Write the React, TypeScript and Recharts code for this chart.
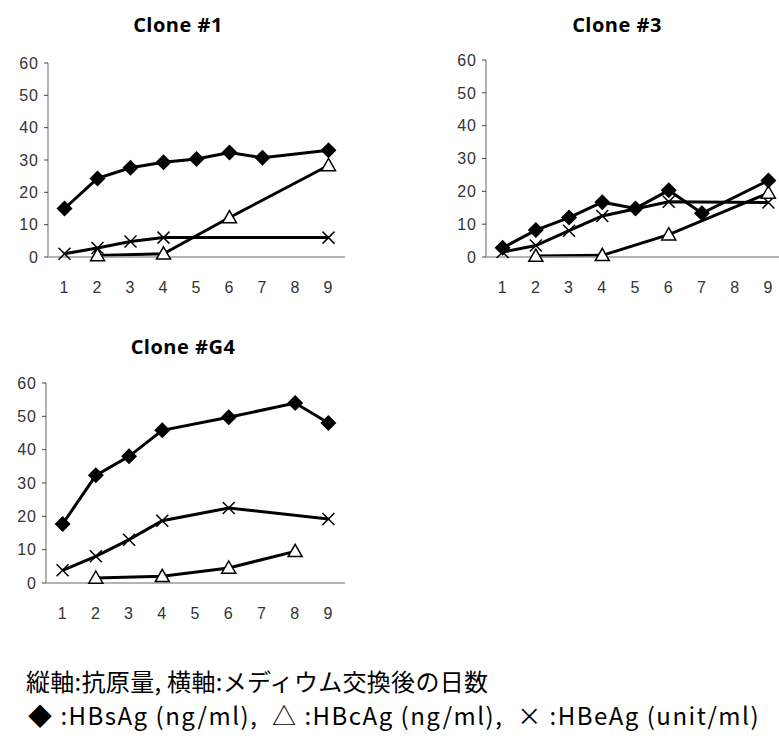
import React from 'react'
import { LineChart, Line, XAxis, YAxis } from 'recharts'

// days after medium exchange
const days = [1, 2, 3, 4, 5, 6, 7, 8, 9]
const yTicks = [0, 10, 20, 30, 40, 50, 60]
const edgeTicks = [0.5, 1.5, 2.5, 3.5, 4.5, 5.5, 6.5, 7.5, 8.5, 9.5]

// Clone #1
const c1HBs = [15, 24.3, 27.6, 29.3, 30.3, 32.3, 30.7, null, 33]
const c1HBc = [null, 0.5, null, 1, null, 12.2, null, null, 28.3]
const c1HBe = [1, 2.8, 4.8, 6, null, null, null, null, 6]

// Clone #3
const c3HBs = [2.8, 8.2, 12, 16.7, 14.8, 20.3, 13.3, null, 23.3]
const c3HBc = [null, 0.3, null, 0.5, null, 6.8, null, null, 19.5]
const c3HBe = [1.5, 3.5, 8, 12.5, null, 16.8, null, null, 16.6]

// Clone #G4
const g4HBs = [17.7, 32.3, 38, 45.8, null, 49.7, null, 54, 48]
const g4HBc = [null, 1.5, null, 2, null, 4.5, null, 9.5, null]
const g4HBe = [3.8, 8, 13, 18.7, null, 22.5, null, null, 19.2]

const build = (s: (number | null)[], c: (number | null)[], e: (number | null)[]) =>
  days.map((d, i) => ({ day: d, hbs: s[i], hbc: c[i], hbe: e[i] }))

const Diamond = (p: any) => {
  const { cx, cy, value } = p
  if (value == null || cx == null) return null
  const r = 8
  return <polygon key={p.key} points={`${cx},${cy - r} ${cx + r},${cy} ${cx},${cy + r} ${cx - r},${cy}`} fill="#000" />
}

const Tri = (p: any) => {
  const { cx, cy, value } = p
  if (value == null || cx == null) return null
  const r = 7
  return (
    <polygon
      key={p.key}
      points={`${cx},${cy - r} ${cx + r},${cy + r * 0.75} ${cx - r},${cy + r * 0.75}`}
      fill="#fff"
      stroke="#000"
      strokeWidth={1.5}
    />
  )
}

const Cross = (p: any) => {
  const { cx, cy, value } = p
  if (value == null || cx == null) return null
  const r = 6
  return (
    <g key={p.key} stroke="#000" strokeWidth={1.5}>
      <line x1={cx - r} y1={cy - r} x2={cx + r} y2={cy + r} />
      <line x1={cx - r} y1={cy + r} x2={cx + r} y2={cy - r} />
    </g>
  )
}

const tickFont = { fill: '#333', fontSize: 16, letterSpacing: 1, fontFamily: 'Liberation Sans, Arial, sans-serif' }

interface PanelProps {
  title: string
  titleX: number
  titleY: number
  x0: number
  y0: number
  x1: number
  y1: number
  data: ReturnType<typeof build>
}

function Panel({ title, titleX, titleY, x0, y0, x1, y1, data }: PanelProps) {
  const left = x0 - 45
  const top = y0 - 20
  const width = x1 - left + 2
  const height = y1 - top + 6 + 40 + 6
  return (
    <>
      <div
        style={{
          position: 'absolute',
          left: titleX - 90,
          top: titleY - 14,
          width: 180,
          textAlign: 'center',
          fontFamily: 'Open Sans, sans-serif',
          fontWeight: 700,
          fontSize: 20,
          letterSpacing: 0.5,
          lineHeight: '28px',
          color: '#000',
        }}
      >
        {title}
      </div>
      <div style={{ position: 'absolute', left, top }}>
        <LineChart width={width} height={height} data={data} margin={{ top: 20, right: 2, left: 5, bottom: 6 }}>
          <XAxis
            xAxisId={0}
            dataKey="day"
            type="number"
            domain={[0.5, 9.5]}
            ticks={edgeTicks}
            tick={false}
            tickSize={5}
            height={6}
            axisLine={{ stroke: '#999', strokeWidth: 1.5 }}
            tickLine={{ stroke: '#444' }}
          />
          <XAxis
            xAxisId="lbl"
            dataKey="day"
            type="number"
            domain={[0.5, 9.5]}
            ticks={days}
            tick={tickFont}
            tickSize={0}
            tickMargin={19}
            height={40}
            axisLine={false}
            tickLine={false}
          />
          <YAxis
            domain={[0, 60]}
            ticks={yTicks}
            width={40}
            tick={tickFont}
            tickSize={4}
            tickMargin={5}
            axisLine={{ stroke: '#999', strokeWidth: 1.5 }}
            tickLine={{ stroke: '#444' }}
          />
          <Line dataKey="hbe" stroke="#000" strokeWidth={3} connectNulls dot={Cross} isAnimationActive={false} />
          <Line dataKey="hbc" stroke="#000" strokeWidth={3} connectNulls dot={Tri} isAnimationActive={false} />
          <Line dataKey="hbs" stroke="#000" strokeWidth={3} connectNulls dot={Diamond} isAnimationActive={false} />
        </LineChart>
      </div>
    </>
  )
}

export default function App() {
  return (
    <div style={{ position: 'absolute', left: 0, top: 0, width: 779, height: 741, background: '#fff', overflow: 'hidden' }}>
      <Panel title="Clone #1" titleX={178} titleY={25} x0={48} y0={63} x1={345} y1={257} data={build(c1HBs, c1HBc, c1HBe)} />
      <Panel title="Clone #3" titleX={617} titleY={25} x0={486} y0={60} x1={785} y1={257} data={build(c3HBs, c3HBc, c3HBe)} />
      <Panel title="Clone #G4" titleX={183} titleY={347} x0={46} y0={383} x1={345} y1={583} data={build(g4HBs, g4HBc, g4HBe)} />
      <div
        style={{
          position: 'absolute',
          left: 26,
          top: 665,
          fontFamily: '"Noto Sans CJK JP", sans-serif',
          fontSize: 24,
          letterSpacing: 0.3,
          lineHeight: '32px',
          color: '#000',
          whiteSpace: 'nowrap',
        }}
      >
        縦軸:抗原量, 横軸:メディウム交換後の日数
      </div>
      <div
        style={{
          position: 'absolute',
          left: 28,
          top: 699,
          fontFamily: '"Noto Sans CJK JP", sans-serif',
          fontSize: 24,
          letterSpacing: 1.5,
          lineHeight: '32px',
          color: '#000',
          whiteSpace: 'pre',
        }}
      >
        {'◆ :HBsAg (ng/ml),  △ :HBcAg (ng/ml),  × :HBeAg (unit/ml)'}
      </div>
    </div>
  )
}
